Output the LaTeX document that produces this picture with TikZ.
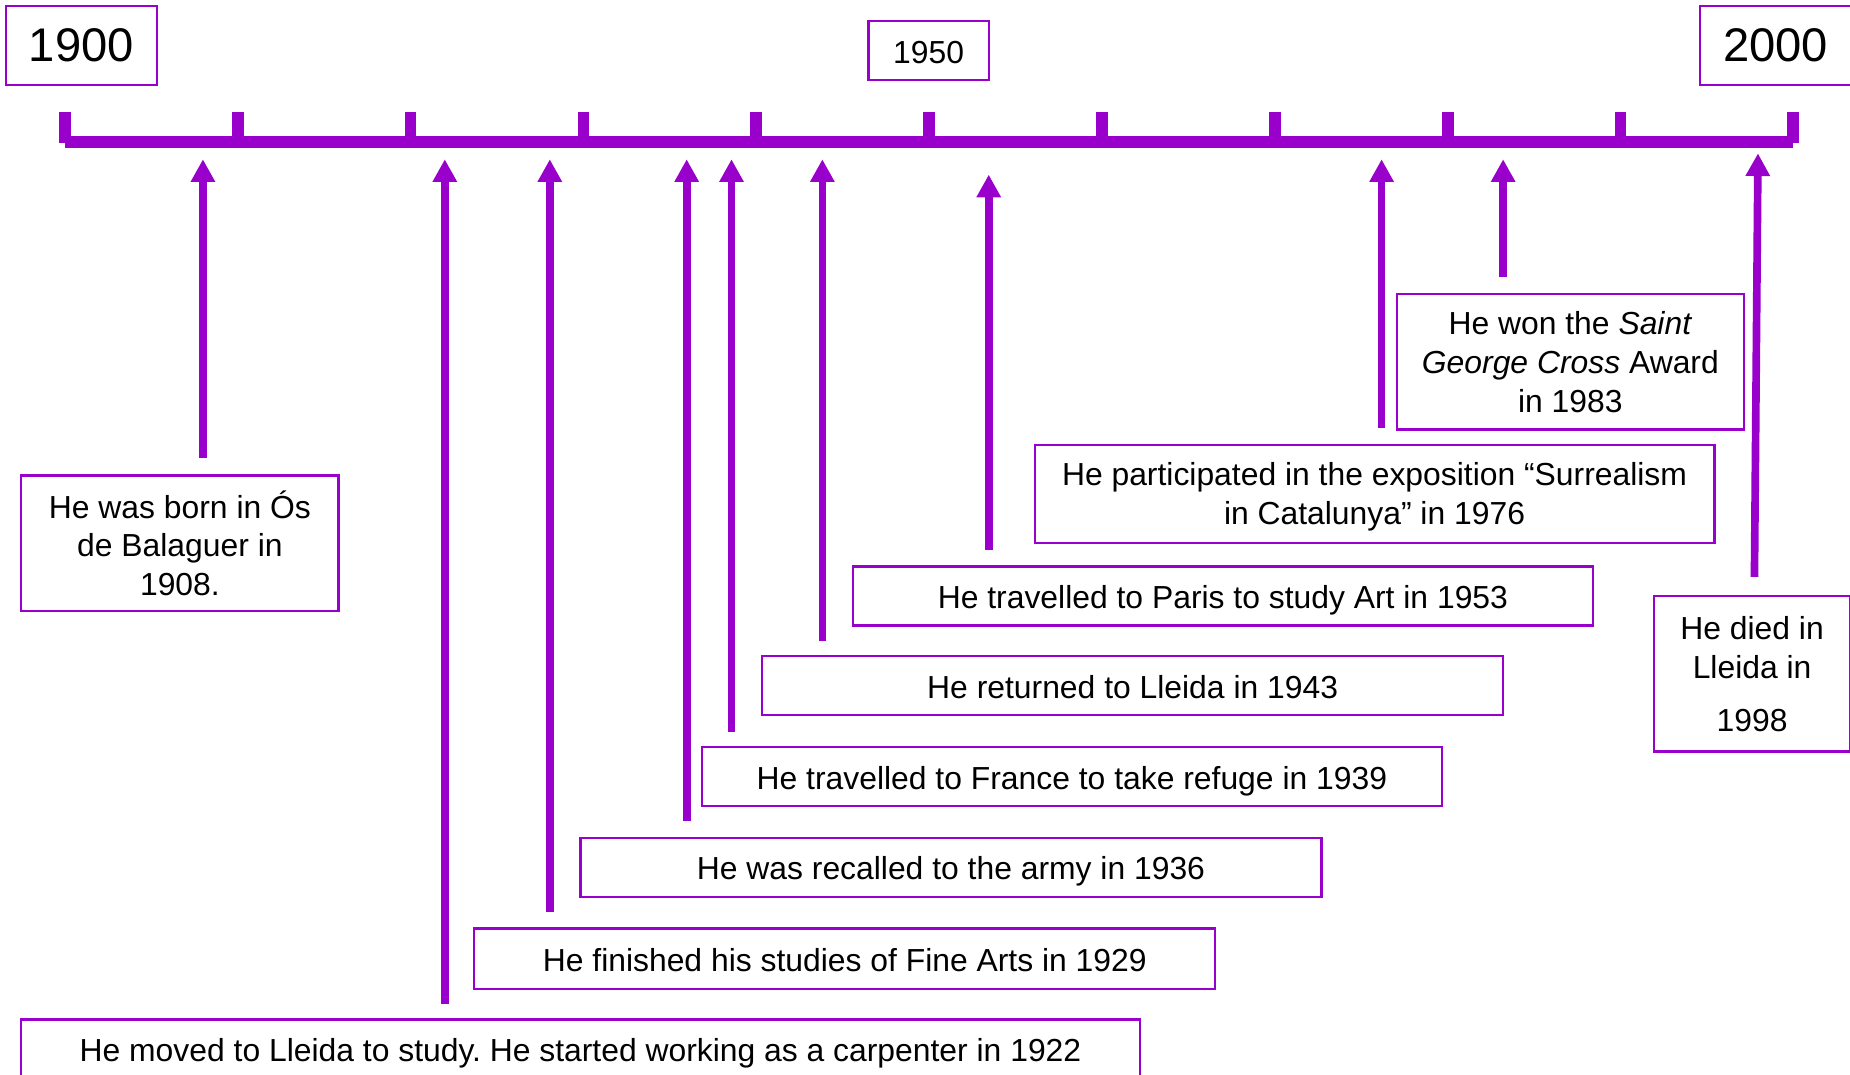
\documentclass[tikz,border=0pt]{standalone}
\usepackage{fontspec}
\setmainfont{Liberation Sans}
\usetikzlibrary{arrows.meta}
\definecolor{purp}{RGB}{153,0,204}
\tikzset{
  evbox/.style={draw=purp, line width=1pt, fill=white, inner sep=0pt, align=center,
    font=\fontsize{13.5pt}{16.5pt}\selectfont},
  oneline/.style={evbox, text height=10.8pt, text depth=0pt},
  yearbig/.style={evbox, font=\fontsize{20pt}{24pt}\selectfont, text depth=-3.5pt},
  evarrow/.style={draw=purp, line width=3.25pt, -{Triangle[width=9.8pt,length=9.6pt]}},
  axisline/.style={draw=purp, line width=5.2pt},
  tickmark/.style={draw=purp, line width=5pt}
}
\begin{document}
\frenchspacing
\begin{tikzpicture}[x=0.5pt,y=-0.5pt]
\useasboundingbox (0,0) rectangle (1568,911);
\clip (0,0) rectangle (1568,911);
% year boxes
\node[yearbig, minimum width=64pt, minimum height=33.5pt] (y1900) at (69,38.5) {1900};
\node[oneline, minimum width=51pt, minimum height=25pt] (y1950) at (787,43) {1950};
\node[yearbig, minimum width=64pt, minimum height=33.5pt] (y2000) at (1505,38.5) {2000};
% axis
\coordinate (axL) at (55,120.5);
\coordinate (axR) at (1520,120.5);
\draw[axisline] (axL) -- (axR);
\foreach \i in {0,...,10}{
  \coordinate (t\i) at ({55+146.5*\i},95);
  \coordinate (b\i) at ({55+146.5*\i},121);
  \draw[tickmark] (t\i) -- (b\i);
}
% event boxes
\node[evbox, minimum width=134.5pt, minimum height=57.5pt] (born) at (152.5,460.5)
  {He was born in Ós\\de Balaguer in\\1908.};
\node[oneline, minimum width=474pt, minimum height=25pt] (moved) at (492,889)
  {He moved to Lleida to study. He started working as a carpenter in 1922};
\node[oneline, minimum width=314pt, minimum height=25.5pt] (fine) at (716,812.5)
  {He finished his studies of Fine Arts in 1929};
\node[oneline, minimum width=314pt, minimum height=25pt] (army) at (806,735)
  {He was recalled to the army in 1936};
\node[oneline, minimum width=313.5pt, minimum height=25pt] (france) at (908.5,658)
  {He travelled to France to take refuge in 1939};
\node[oneline, minimum width=314pt, minimum height=25pt] (returned) at (960,581)
  {He returned to Lleida in 1943};
\node[oneline, minimum width=313.5pt, minimum height=25pt] (paris) at (1036.5,505)
  {He travelled to Paris to study Art in 1953};
\node[evbox, text depth=-3pt, minimum width=288pt, minimum height=41.5pt] (surreal) at (1165,418.5)
  {He participated in the exposition “Surrealism\\in Catalunya” in 1976};
\node[evbox, text depth=-1.5pt, minimum width=147pt, minimum height=57.5pt] (award) at (1331,306.5)
  {He won the \textit{Saint}\\\textit{George Cross} Award\\in 1983};
\node[evbox, minimum width=83pt, minimum height=66pt] (died) at (1485,571)
  {He died in\\Lleida in\\[6pt]1998};
% arrow ends
\coordinate (s1) at (172,388);  \coordinate (e1) at (172,135);
\coordinate (s2) at (377,851);  \coordinate (e2) at (377,135);
\coordinate (s3) at (466,773);  \coordinate (e3) at (466,135);
\coordinate (s4) at (582,696);  \coordinate (e4) at (582,135);
\coordinate (s5) at (620,620);  \coordinate (e5) at (620,135);
\coordinate (s6) at (697,543);  \coordinate (e6) at (697,135);
\coordinate (s7) at (838,466);  \coordinate (e7) at (838,148);
\coordinate (s8) at (1171,363); \coordinate (e8) at (1171,135);
\coordinate (s9) at (1274,235); \coordinate (e9) at (1274,135);
\coordinate (s10) at (1487,489); \coordinate (e10) at (1490,130);
\foreach \k in {1,...,10}{
  \draw[evarrow] (s\k) -- (e\k);
}
\end{tikzpicture}
\end{document}
